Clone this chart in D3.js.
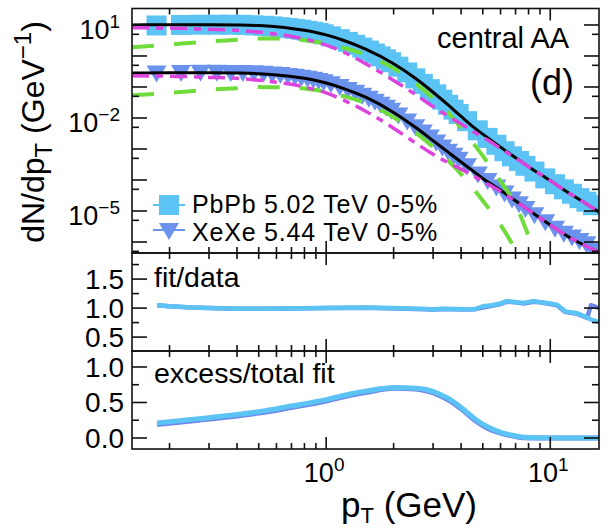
<!DOCTYPE html>
<html><head><meta charset="utf-8">
<script src="https://cdn.jsdelivr.net/npm/d3@7"></script>
<style>body{margin:0;background:#fff;} text{font-family:"Liberation Sans",Arial,Helvetica,sans-serif;fill:#000;}</style>
</head><body><svg id="c" width="605" height="530"></svg>
<script>
// ---------------- data ----------------
const ptBins = [0.175,0.225,0.275,0.325,0.375,0.425,0.475,0.525,0.575,0.625,0.675,0.725,0.775,0.825,0.875,0.925,0.975,
  1.05,1.15,1.25,1.35,1.45,1.55,1.65,1.75,1.85,1.95,
  2.1,2.3,2.5,2.7,2.9,3.1,3.3,3.5,3.7,3.9,
  4.25,4.75,5.25,5.75,6.25,6.75,7.25,7.75,
  8.5,9.5,10.5,11.5,12.5,13.5,14.5,15.5];
const pbpbData = [9.64,10.0,10.2,10.2,10.2,10.1,9.7,9.4,9.0,8.5,7.95,7.5,7.0,6.45,6.0,5.5,5.0,
  4.3,3.5,2.85,2.3,1.86,1.5,1.2,0.97,0.78,0.63,
  0.452,0.295,0.19,0.126,0.085,0.058,0.039,0.0267,0.0186,0.0135,
  0.0079,0.0040,0.00228,0.00137,0.00085,0.00058,0.00041,0.000287,
  0.000187,0.000113,7.3e-5,5.0e-5,3.6e-5,2.6e-5,2.0e-5,1.54e-5];
const xexeData = [0.272,0.283,0.288,0.288,0.285,0.284,0.277,0.265,0.253,0.242,0.228,0.213,0.198,0.185,0.170,0.156,0.141,
  0.122,0.099,0.0794,0.0646,0.0525,0.0417,0.0331,0.0269,0.0214,0.0170,
  0.0120,0.00776,0.00501,0.00339,0.00234,0.00162,0.00112,0.00081,0.0006,0.00045,
  0.00028,0.00015,9.2e-5,5.7e-5,3.7e-5,2.36e-5,1.65e-5,1.16e-5,
  7.3e-6,4.3e-6,2.7e-6,1.86e-6,1.4e-6,1.08e-6,8.5e-7,5.2e-7];

const fitPt = [0.136,0.2,0.3,0.4,0.5,0.6,0.7,0.8,0.9,1.0,1.2,1.5,2.0,2.5,3.0,3.5,4.0,4.5,5.0,6.0,7.0,8.0,10,12,14,16.5];
const pbpbTotal = [10.0,10.2,10.2,10.0,9.55,8.71,7.76,6.76,5.75,4.79,3.16,1.66,0.562,0.191,0.0676,0.0263,0.0112,0.00537,0.00302,0.00115,5.25e-4,2.69e-4,9.55e-5,3.98e-5,2.0e-5,9.3e-6];
const pbpbPower = [8.13,7.94,7.24,6.76,5.89,5.01,4.27,3.55,2.82,2.24,1.32,0.562,0.162,0.0575,0.0234,0.0115,0.00646,0.00372,0.0024,0.00105,5.13e-4,2.69e-4,9.55e-5,3.98e-5,2.0e-5,9.3e-6];
const xexeTotal = [0.282,0.288,0.288,0.282,0.269,0.245,0.219,0.191,0.162,0.135,0.0891,0.0468,0.0151,0.00501,0.00186,7.94e-4,3.80e-4,2.0e-4,1.12e-4,4.68e-5,2.14e-5,1.07e-5,3.55e-6,1.51e-6,8.3e-7,4.68e-7];
const xexePower = [0.229,0.224,0.204,0.191,0.166,0.141,0.123,0.100,0.0813,0.0646,0.0372,0.0166,0.00468,0.00158,6.76e-4,3.63e-4,2.24e-4,1.41e-4,9.12e-5,4.27e-5,2.09e-5,1.07e-5,3.55e-6,1.51e-6,8.3e-7,4.68e-7];
const thermPt = [0.136,0.2,0.3,0.4,0.5,0.6,0.7,0.8,0.9,1.0,1.2,1.5,2.0,2.5,3.0,3.5,4.0,4.5,5.0,6.0,7.0,8.0,9.0];
const pbpbThermal = [1.91,2.34,2.95,3.31,3.63,3.63,3.47,3.24,2.88,2.51,1.82,1.10,0.398,0.133,0.0437,0.0148,0.00479,0.00162,6.0e-4,9.1e-5,1.58e-5,1.58e-6,1.58e-7];
const xexeThermal = [0.0537,0.0646,0.0813,0.0912,0.100,0.0977,0.0955,0.0891,0.0794,0.0692,0.0501,0.0302,0.0105,0.00339,0.00117,4.27e-4,1.55e-4,5.62e-5,2.14e-5,3.55e-6,5.4e-7,6.3e-8,8e-9];

const ratioPt = [0.176,0.2,0.25,0.3,0.4,0.5,0.7,1.0,1.5,2.0,2.5,2.8,3.0,3.3,3.7,4.2,4.6,5.0,5.5,6.0,6.4,7.0,7.6,8.4,9.0,10,10.7,11.7,13.2,14.6,15.2,16.5];
const pbpbRatio = [1.05,1.03,1.01,1.0,0.99,0.99,0.995,1.0,1.01,1.0,0.99,0.985,0.975,0.99,0.985,0.98,0.98,1.03,1.05,1.08,1.12,1.10,1.09,1.12,1.10,1.08,1.06,0.94,0.91,0.84,0.80,0.76];
const xexeRatio = [1.05,1.03,1.01,1.0,0.99,0.99,0.995,1.0,1.005,0.995,0.985,0.98,0.97,0.985,0.98,0.975,0.98,1.01,1.04,1.07,1.11,1.10,1.08,1.11,1.10,1.07,1.05,0.93,0.90,0.83,1.05,1.0];

const excessPt = [0.176,0.27,0.4,0.5,0.7,1.0,1.28,1.5,2.0,2.5,2.82,3.2,3.58,4.0,4.7,5.3,6.0,7.0,7.6,9.0,12,16.5];
const pbpbExcess = [0.21,0.27,0.33,0.37,0.45,0.54,0.62,0.66,0.71,0.70,0.68,0.62,0.54,0.43,0.25,0.15,0.08,0.03,0.01,0.002,0,0];
const xexeExcess = [0.19,0.25,0.31,0.35,0.43,0.52,0.60,0.64,0.70,0.69,0.66,0.60,0.52,0.41,0.23,0.13,0.07,0.02,0.005,0.0,0,0];

const legendLabels = ["PbPb 5.02 TeV 0-5%","XeXe 5.44 TeV 0-5%"];
const xMajor = [1,10], xMinor = [0.2,0.3,0.4,0.5,0.6,0.7,0.8,0.9,2,3,4,5,6,7,8,9];
const yTopMajor = [1e-6,1e-5,1e-4,1e-3,1e-2,1e-1,1,10], yTopMinor = [5e-7,5e-6,5e-5,5e-4,5e-3,5e-2,5e-1,5];
const yTopLabels = [[10,"1"],[1e-2,"−2"],[1e-5,"−5"]];
const yMidMajor=[0.5,1.0,1.5], yMidMinor=[0.75,1.25,1.75];
const yBotMajor=[0,0.5,1.0], yBotMinor=[0.25,0.75];

// ---------------- colours ----------------
const cPb = "#5cc3f5", cXe = "#6b93ee", cXeLine="#6f86ea", cGreen = "#6fdc3c", cMag = "#dd44dd";

// ---------------- scales ----------------
const L=132, R=599;
const x = d3.scaleLog().domain([0.136,16.5]).range([L,R]);
const panels = [
  {top:8.5, bot:253, y:d3.scaleLog().domain([4.42e-7,34]).range([253,8.5]), major:yTopMajor, minor:yTopMinor},
  {top:253, bot:351, y:d3.scaleLinear().domain([0.26,1.95]).range([351,253]), major:yMidMajor, minor:yMidMinor},
  {top:351, bot:449, y:d3.scaleLinear().domain([-0.155,1.225]).range([449,351]), major:yBotMajor, minor:yBotMinor}
];
const svg = d3.select("#c");
const defs = svg.append("defs");
panels.forEach((p,i)=>{
  defs.append("clipPath").attr("id","clip"+i).append("rect")
    .attr("x",L).attr("y",p.top).attr("width",R-L).attr("height",p.bot-p.top);
});

// ---------------- top panel ----------------
const P0 = panels[0], y0 = P0.y;
const g0 = svg.append("g").attr("clip-path","url(#clip0)");
g0.selectAll("rect.pb").data(ptBins.map((p,i)=>[p,pbpbData[i]])).enter().append("rect")
  .attr("x",d=>x(d[0])-10).attr("y",d=>y0(d[1])-10).attr("width",20).attr("height",20).attr("fill",cPb);
const tri = (cx,cy)=>`M${cx-10},${cy-8}L${cx+10},${cy-8}L${cx},${cy+9}Z`;
g0.selectAll("path.xe").data(ptBins.map((p,i)=>[p,xexeData[i]])).enter().append("path")
  .attr("d",d=>tri(x(d[0]),y0(d[1]))).attr("fill",cXe);

const lineTop = d3.line().x(d=>x(d[0])).y(d=>y0(d[1])).curve(d3.curveMonotoneX);
const zip = (a,b)=>a.map((v,i)=>[v,b[i]]);
[pbpbTotal,xexeTotal].forEach(arr=>{
  g0.append("path").attr("d",lineTop(zip(fitPt,arr))).attr("fill","none").attr("stroke","#000").attr("stroke-width",3);
});
[pbpbThermal,xexeThermal].forEach(arr=>{
  g0.append("path").attr("d",lineTop(zip(thermPt,arr))).attr("fill","none").attr("stroke",cGreen)
    .attr("stroke-width",4).attr("stroke-dasharray","22,20");
});
[pbpbPower,xexePower].forEach(arr=>{
  g0.append("path").attr("d",lineTop(zip(fitPt,arr))).attr("fill","none").attr("stroke",cMag)
    .attr("stroke-width",3.5).attr("stroke-dasharray","17,7,7,7");
});

// ---------------- middle panel ----------------
const y1 = panels[1].y;
const g1 = svg.append("g").attr("clip-path","url(#clip1)");
const lineMid = d3.line().x(d=>x(d[0])).y(d=>y1(d[1]));
g1.append("path").attr("d",lineMid(zip(ratioPt,xexeRatio))).attr("fill","none").attr("stroke",cXeLine).attr("stroke-width",4.5).attr("stroke-linejoin","round");
g1.append("path").attr("d",lineMid(zip(ratioPt,pbpbRatio))).attr("fill","none").attr("stroke",cPb).attr("stroke-width",4.5).attr("stroke-linejoin","round");

// ---------------- bottom panel ----------------
const y2 = panels[2].y;
const g2 = svg.append("g").attr("clip-path","url(#clip2)");
const lineBot = d3.line().x(d=>x(d[0])).y(d=>y2(d[1])).curve(d3.curveMonotoneX);
g2.append("path").attr("d",lineBot(zip(excessPt,xexeExcess))).attr("fill","none").attr("stroke",cXeLine).attr("stroke-width",5);
g2.append("path").attr("d",lineBot(zip(excessPt,pbpbExcess))).attr("fill","none").attr("stroke",cPb).attr("stroke-width",5);

// ---------------- frames & ticks ----------------
const ax = svg.append("g").attr("stroke","#111").attr("stroke-width",1.6);
panels.forEach(p=>{
  ax.append("rect").attr("x",L).attr("y",p.top).attr("width",R-L).attr("height",p.bot-p.top).attr("fill","none");
  xMajor.forEach(t=>{
    ax.append("line").attr("x1",x(t)).attr("x2",x(t)).attr("y1",p.bot).attr("y2",p.bot-12);
    ax.append("line").attr("x1",x(t)).attr("x2",x(t)).attr("y1",p.top).attr("y2",p.top+12);
  });
  xMinor.forEach(t=>{
    ax.append("line").attr("x1",x(t)).attr("x2",x(t)).attr("y1",p.bot).attr("y2",p.bot-6);
    ax.append("line").attr("x1",x(t)).attr("x2",x(t)).attr("y1",p.top).attr("y2",p.top+6);
  });
  p.major.forEach(t=>{
    ax.append("line").attr("x1",L).attr("x2",L+15).attr("y1",p.y(t)).attr("y2",p.y(t));
    ax.append("line").attr("x1",R).attr("x2",R-15).attr("y1",p.y(t)).attr("y2",p.y(t));
  });
  p.minor.forEach(t=>{
    ax.append("line").attr("x1",L).attr("x2",L+7).attr("y1",p.y(t)).attr("y2",p.y(t));
    ax.append("line").attr("x1",R).attr("x2",R-7).attr("y1",p.y(t)).attr("y2",p.y(t));
  });
});

// ---------------- tick labels ----------------
yTopLabels.forEach(([v,e])=>{
  const t = svg.append("text").attr("x",120).attr("y",y0(v)+14).attr("text-anchor","end").attr("font-size",27);
  t.append("tspan").text("10");
  t.append("tspan").attr("font-size",19).attr("dy",-11).text(e);
});
[[panels[1],yMidMajor],[panels[2],yBotMajor]].forEach(([p,ticks])=>{
  ticks.forEach(v=>{
    svg.append("text").attr("x",124).attr("y",p.y(v)+10).attr("text-anchor","end").attr("font-size",28).text(d3.format(".1f")(v));
  });
});
xMajor.forEach((v,i)=>{
  const t = svg.append("text").attr("x",x(v)-2).attr("y",482).attr("text-anchor","middle").attr("font-size",27);
  t.append("tspan").text("10");
  t.append("tspan").attr("font-size",19).attr("dy",-11).text(String(i));
});

// ---------------- titles ----------------
const yt = svg.append("text").attr("transform","translate(44,132) rotate(-90)").attr("text-anchor","middle").attr("font-size",32);
yt.append("tspan").text("dN/dp");
yt.append("tspan").attr("font-size",24).attr("dy",8).text("T");
yt.append("tspan").attr("dy",-8).text(" (GeV");
yt.append("tspan").attr("font-size",24).attr("dy",-13).text("−1");
yt.append("tspan").attr("dy",13).text(")");

const xt = svg.append("text").attr("x",341).attr("y",517).attr("font-size",35);
xt.append("tspan").text("p");
xt.append("tspan").attr("font-size",22).attr("dy",6).text("T");
xt.append("tspan").attr("dy",-6).text(" (GeV)");

svg.append("text").attr("x",437).attr("y",48).attr("font-size",29).text("central AA");
svg.append("text").attr("x",574).attr("y",95).attr("text-anchor","end").attr("font-size",36).text("(d)");
svg.append("text").attr("x",154).attr("y",287).attr("font-size",28.5).text("fit/data");
svg.append("text").attr("x",154).attr("y",383).attr("font-size",28.5).text("excess/total fit");

// ---------------- legend ----------------
const leg = svg.append("g");
leg.append("line").attr("x1",153).attr("x2",185).attr("y1",205).attr("y2",205).attr("stroke",cPb).attr("stroke-width",2);
leg.append("rect").attr("x",159).attr("y",195).attr("width",20).attr("height",20).attr("fill",cPb);
leg.append("line").attr("x1",153).attr("x2",185).attr("y1",230).attr("y2",230).attr("stroke",cXe).attr("stroke-width",2);
leg.append("path").attr("d",tri(169,231)).attr("fill",cXe);
legendLabels.forEach((s,i)=>{
  leg.append("text").attr("x",192).attr("y",213+28*i).attr("font-size",25)
    .attr("letter-spacing",0.8).text(s);
});
</script></body></html>
